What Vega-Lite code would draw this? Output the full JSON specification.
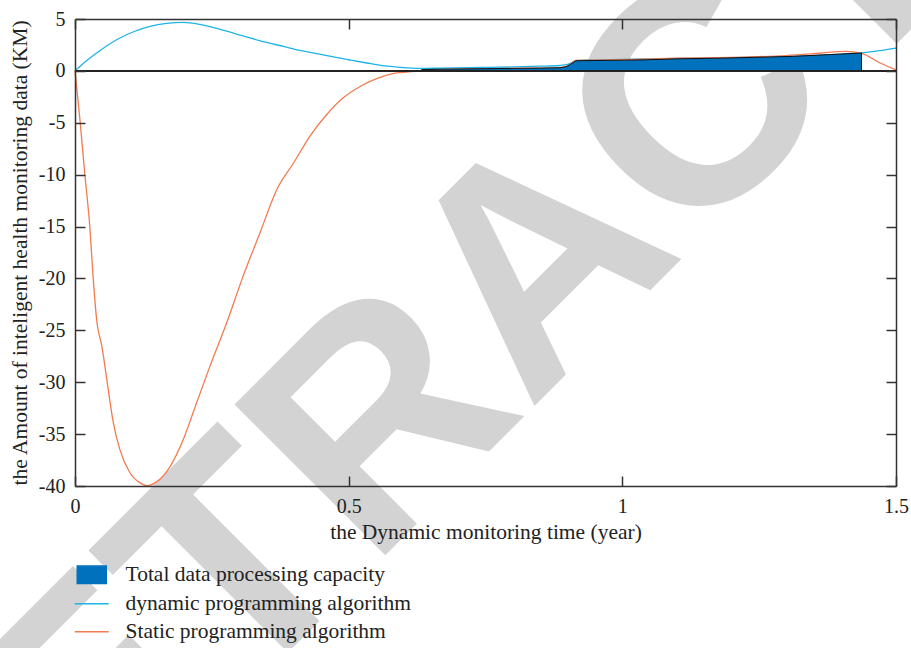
{
  "$schema": "https://vega.github.io/schema/vega-lite/v6.json",
  "width": 821,
  "height": 467,
  "autosize": {"type": "none"},
  "padding": {"left": 75, "top": 19, "right": 15, "bottom": 162},
  "background": "white",
  "config": {"view": {"stroke": null}, "font": "Liberation Serif"},
  "datasets": {
    "curves": [
      {"x": 0, "y": 0, "series": "dynamic programming algorithm"},
      {"x": 0.021, "y": 0.98, "series": "dynamic programming algorithm"},
      {"x": 0.046, "y": 1.97, "series": "dynamic programming algorithm"},
      {"x": 0.076, "y": 3.0, "series": "dynamic programming algorithm"},
      {"x": 0.107, "y": 3.77, "series": "dynamic programming algorithm"},
      {"x": 0.137, "y": 4.28, "series": "dynamic programming algorithm"},
      {"x": 0.167, "y": 4.57, "series": "dynamic programming algorithm"},
      {"x": 0.198, "y": 4.67, "series": "dynamic programming algorithm"},
      {"x": 0.228, "y": 4.48, "series": "dynamic programming algorithm"},
      {"x": 0.259, "y": 4.09, "series": "dynamic programming algorithm"},
      {"x": 0.289, "y": 3.65, "series": "dynamic programming algorithm"},
      {"x": 0.32, "y": 3.17, "series": "dynamic programming algorithm"},
      {"x": 0.35, "y": 2.74, "series": "dynamic programming algorithm"},
      {"x": 0.381, "y": 2.36, "series": "dynamic programming algorithm"},
      {"x": 0.411, "y": 1.97, "series": "dynamic programming algorithm"},
      {"x": 0.442, "y": 1.66, "series": "dynamic programming algorithm"},
      {"x": 0.472, "y": 1.34, "series": "dynamic programming algorithm"},
      {"x": 0.502, "y": 1.05, "series": "dynamic programming algorithm"},
      {"x": 0.533, "y": 0.76, "series": "dynamic programming algorithm"},
      {"x": 0.563, "y": 0.5, "series": "dynamic programming algorithm"},
      {"x": 0.594, "y": 0.34, "series": "dynamic programming algorithm"},
      {"x": 0.63, "y": 0.24, "series": "dynamic programming algorithm"},
      {"x": 0.667, "y": 0.26, "series": "dynamic programming algorithm"},
      {"x": 0.75, "y": 0.33, "series": "dynamic programming algorithm"},
      {"x": 0.8, "y": 0.38, "series": "dynamic programming algorithm"},
      {"x": 0.85, "y": 0.45, "series": "dynamic programming algorithm"},
      {"x": 0.886, "y": 0.52, "series": "dynamic programming algorithm"},
      {"x": 0.9, "y": 0.62, "series": "dynamic programming algorithm"},
      {"x": 0.91, "y": 0.85, "series": "dynamic programming algorithm"},
      {"x": 0.92, "y": 1.02, "series": "dynamic programming algorithm"},
      {"x": 1.0, "y": 1.1, "series": "dynamic programming algorithm"},
      {"x": 1.1, "y": 1.2, "series": "dynamic programming algorithm"},
      {"x": 1.2, "y": 1.28, "series": "dynamic programming algorithm"},
      {"x": 1.3, "y": 1.4, "series": "dynamic programming algorithm"},
      {"x": 1.4, "y": 1.62, "series": "dynamic programming algorithm"},
      {"x": 1.44, "y": 1.75, "series": "dynamic programming algorithm"},
      {"x": 1.47, "y": 1.95, "series": "dynamic programming algorithm"},
      {"x": 1.5, "y": 2.2, "series": "dynamic programming algorithm"},

      {"x": 0, "y": 0, "series": "Static programming algorithm"},
      {"x": 0.009, "y": -4.7, "series": "Static programming algorithm"},
      {"x": 0.018, "y": -10.0, "series": "Static programming algorithm"},
      {"x": 0.027, "y": -15.0, "series": "Static programming algorithm"},
      {"x": 0.033, "y": -19.8, "series": "Static programming algorithm"},
      {"x": 0.04, "y": -24.2, "series": "Static programming algorithm"},
      {"x": 0.049, "y": -26.5, "series": "Static programming algorithm"},
      {"x": 0.058, "y": -29.7, "series": "Static programming algorithm"},
      {"x": 0.07, "y": -33.9, "series": "Static programming algorithm"},
      {"x": 0.082, "y": -36.5, "series": "Static programming algorithm"},
      {"x": 0.1, "y": -38.7, "series": "Static programming algorithm"},
      {"x": 0.119, "y": -39.7, "series": "Static programming algorithm"},
      {"x": 0.131, "y": -39.96, "series": "Static programming algorithm"},
      {"x": 0.149, "y": -39.6, "series": "Static programming algorithm"},
      {"x": 0.174, "y": -38.1, "series": "Static programming algorithm"},
      {"x": 0.198, "y": -35.5, "series": "Static programming algorithm"},
      {"x": 0.216, "y": -32.9, "series": "Static programming algorithm"},
      {"x": 0.247, "y": -28.4, "series": "Static programming algorithm"},
      {"x": 0.277, "y": -24.3, "series": "Static programming algorithm"},
      {"x": 0.307, "y": -19.8, "series": "Static programming algorithm"},
      {"x": 0.338, "y": -15.6, "series": "Static programming algorithm"},
      {"x": 0.369, "y": -11.4, "series": "Static programming algorithm"},
      {"x": 0.399, "y": -8.9, "series": "Static programming algorithm"},
      {"x": 0.429, "y": -6.3, "series": "Static programming algorithm"},
      {"x": 0.46, "y": -4.2, "series": "Static programming algorithm"},
      {"x": 0.49, "y": -2.6, "series": "Static programming algorithm"},
      {"x": 0.521, "y": -1.5, "series": "Static programming algorithm"},
      {"x": 0.551, "y": -0.75, "series": "Static programming algorithm"},
      {"x": 0.58, "y": -0.27, "series": "Static programming algorithm"},
      {"x": 0.624, "y": -0.03, "series": "Static programming algorithm"},
      {"x": 0.65, "y": 0.1, "series": "Static programming algorithm"},
      {"x": 0.7, "y": 0.16, "series": "Static programming algorithm"},
      {"x": 0.8, "y": 0.24, "series": "Static programming algorithm"},
      {"x": 0.88, "y": 0.3, "series": "Static programming algorithm"},
      {"x": 0.9, "y": 0.45, "series": "Static programming algorithm"},
      {"x": 0.915, "y": 1.0, "series": "Static programming algorithm"},
      {"x": 0.95, "y": 1.04, "series": "Static programming algorithm"},
      {"x": 1.0, "y": 1.08, "series": "Static programming algorithm"},
      {"x": 1.1, "y": 1.22, "series": "Static programming algorithm"},
      {"x": 1.2, "y": 1.3, "series": "Static programming algorithm"},
      {"x": 1.3, "y": 1.48, "series": "Static programming algorithm"},
      {"x": 1.36, "y": 1.7, "series": "Static programming algorithm"},
      {"x": 1.407, "y": 1.88, "series": "Static programming algorithm"},
      {"x": 1.437, "y": 1.68, "series": "Static programming algorithm"},
      {"x": 1.471, "y": 0.76, "series": "Static programming algorithm"},
      {"x": 1.5, "y": 0.1, "series": "Static programming algorithm"},

      {"x": 0.633, "y": 0.12, "series": "Total data processing capacity"},
      {"x": 0.667, "y": 0.17, "series": "Total data processing capacity"},
      {"x": 0.75, "y": 0.21, "series": "Total data processing capacity"},
      {"x": 0.85, "y": 0.27, "series": "Total data processing capacity"},
      {"x": 0.886, "y": 0.3, "series": "Total data processing capacity"},
      {"x": 0.897, "y": 0.4, "series": "Total data processing capacity"},
      {"x": 0.905, "y": 0.62, "series": "Total data processing capacity"},
      {"x": 0.915, "y": 0.98, "series": "Total data processing capacity"},
      {"x": 0.95, "y": 1.0, "series": "Total data processing capacity"},
      {"x": 1.0, "y": 1.03, "series": "Total data processing capacity"},
      {"x": 1.044, "y": 1.07, "series": "Total data processing capacity"},
      {"x": 1.1, "y": 1.16, "series": "Total data processing capacity"},
      {"x": 1.19, "y": 1.24, "series": "Total data processing capacity"},
      {"x": 1.312, "y": 1.4, "series": "Total data processing capacity"},
      {"x": 1.437, "y": 1.72, "series": "Total data processing capacity"}
    ]
  },
  "data": {"name": "curves"},
  "layer": [
    {
      "data": {"values": [{"label": "RETRACTED"}]},
      "mark": {"type": "text", "font": "Liberation Sans", "fontWeight": "bold", "fontSize": 310, "angle": -45, "align": "center", "baseline": "alphabetic", "color": "#d3d3d3"},
      "encoding": {
        "x": {"datum": 0.974, "type": "quantitative", "scale": {"domain": [0, 1.5], "nice": false, "zero": false}, "axis": null},
        "y": {"datum": -25.2, "type": "quantitative", "scale": {"domain": [-40, 5], "nice": false, "zero": false}, "axis": null},
        "text": {"field": "label", "type": "nominal"}
      }
    },
    {
      "transform": [{"filter": "datum.series !== 'Total data processing capacity'"}],
      "mark": {"type": "line", "strokeWidth": 1.3, "interpolate": "monotone"},
      "encoding": {
        "x": {
          "field": "x", "type": "quantitative",
          "axis": {"orient": "bottom", "zindex": 1, "values": [0, 0.5, 1, 1.5], "labelExpr": "'' + datum.value", "tickSize": -10, "labelPadding": 20, "title": "the Dynamic monitoring time (year)", "titleFontSize": 21.5, "titleFont": "Liberation Serif", "titleFontWeight": "normal", "titleColor": "#222", "titlePadding": 5, "labelFontSize": 20, "labelFont": "Liberation Serif", "labelColor": "#222", "domainColor": "#333", "domainWidth": 1.5, "tickColor": "#333", "tickWidth": 1.5, "grid": false, "labelFlush": false, "labelOverlap": false}
        },
        "y": {
          "field": "y", "type": "quantitative",
          "axis": {"orient": "left", "zindex": 1, "values": [-40, -35, -30, -25, -20, -15, -10, -5, 0, 5], "labelExpr": "'' + datum.value", "tickSize": -10, "labelPadding": 20, "title": "the Amount of inteligent health monitoring data (KM)", "titleFontSize": 21.5, "titleFont": "Liberation Serif", "titleFontWeight": "normal", "titleColor": "#222", "titlePadding": 7, "labelFontSize": 20, "labelFont": "Liberation Serif", "labelColor": "#222", "domainColor": "#333", "domainWidth": 1.5, "tickColor": "#333", "tickWidth": 1.5, "grid": false, "labelFlush": false, "labelOverlap": false}
        },
        "color": {
          "field": "series", "type": "nominal",
          "scale": {"domain": ["Total data processing capacity", "dynamic programming algorithm", "Static programming algorithm"], "range": ["#0072bd", "#1db4e8", "#f47a50"]},
          "legend": {
            "orient": "none", "legendX": 6, "legendY": 545, "title": null, "zindex": 1,
            "labelFont": "Liberation Serif", "labelFontSize": 21.5, "labelColor": "#222", "labelOffset": 23, "labelLimit": 500,
            "rowPadding": 5, "symbolSize": 900, "padding": 0,
            "encode": {"symbols": {"update": {
              "shape": {"signal": "datum.value === 'Total data processing capacity' ? 'M-0.97,-0.58H0.97V0.58H-0.97Z' : 'M-1.13,0H1.13'"},
              "fill": {"signal": "datum.value === 'Total data processing capacity' ? '#0072bd' : 'transparent'"},
              "stroke": {"signal": "datum.value === 'Total data processing capacity' ? '#111111' : (datum.value === 'dynamic programming algorithm' ? '#1db4e8' : '#f47a50')"},
              "strokeWidth": {"signal": "datum.value === 'Total data processing capacity' ? 1.4 : 1.6"},
              "opacity": {"value": 1},
              "size": {"value": 900}
            }}}
          }
        }
      }
    },
    {
      "transform": [{"filter": "datum.series === 'Total data processing capacity'"}],
      "mark": {"type": "area", "stroke": "#111111", "strokeWidth": 1, "opacity": 1},
      "encoding": {
        "x": {"field": "x", "type": "quantitative", "axis": null},
        "y": {"field": "y", "type": "quantitative", "axis": null},
        "y2": {"datum": 0},
        "color": {"field": "series", "type": "nominal"}
      }
    },
    {
      "data": {"values": [{"level": 0}]},
      "mark": {"type": "rule", "color": "#222", "strokeWidth": 2},
      "encoding": {"y": {"field": "level", "type": "quantitative", "axis": null}}
    },
    {
      "mark": {"type": "point", "opacity": 0},
      "encoding": {
        "x": {"field": "x", "type": "quantitative", "axis": {"orient": "top", "zindex": 1, "values": [0, 0.5, 1, 1.5], "labels": false, "title": null, "tickSize": -10, "domainColor": "#333", "domainWidth": 1.5, "tickColor": "#333", "tickWidth": 1.5, "grid": false}},
        "y": {"field": "y", "type": "quantitative", "axis": {"orient": "right", "zindex": 1, "values": [-40, -35, -30, -25, -20, -15, -10, -5, 0, 5], "labels": false, "title": null, "tickSize": -10, "domainColor": "#333", "domainWidth": 1.5, "tickColor": "#333", "tickWidth": 1.5, "grid": false}}
      }
    }
  ],
  "resolve": {"axis": {"x": "independent", "y": "independent"}}
}
